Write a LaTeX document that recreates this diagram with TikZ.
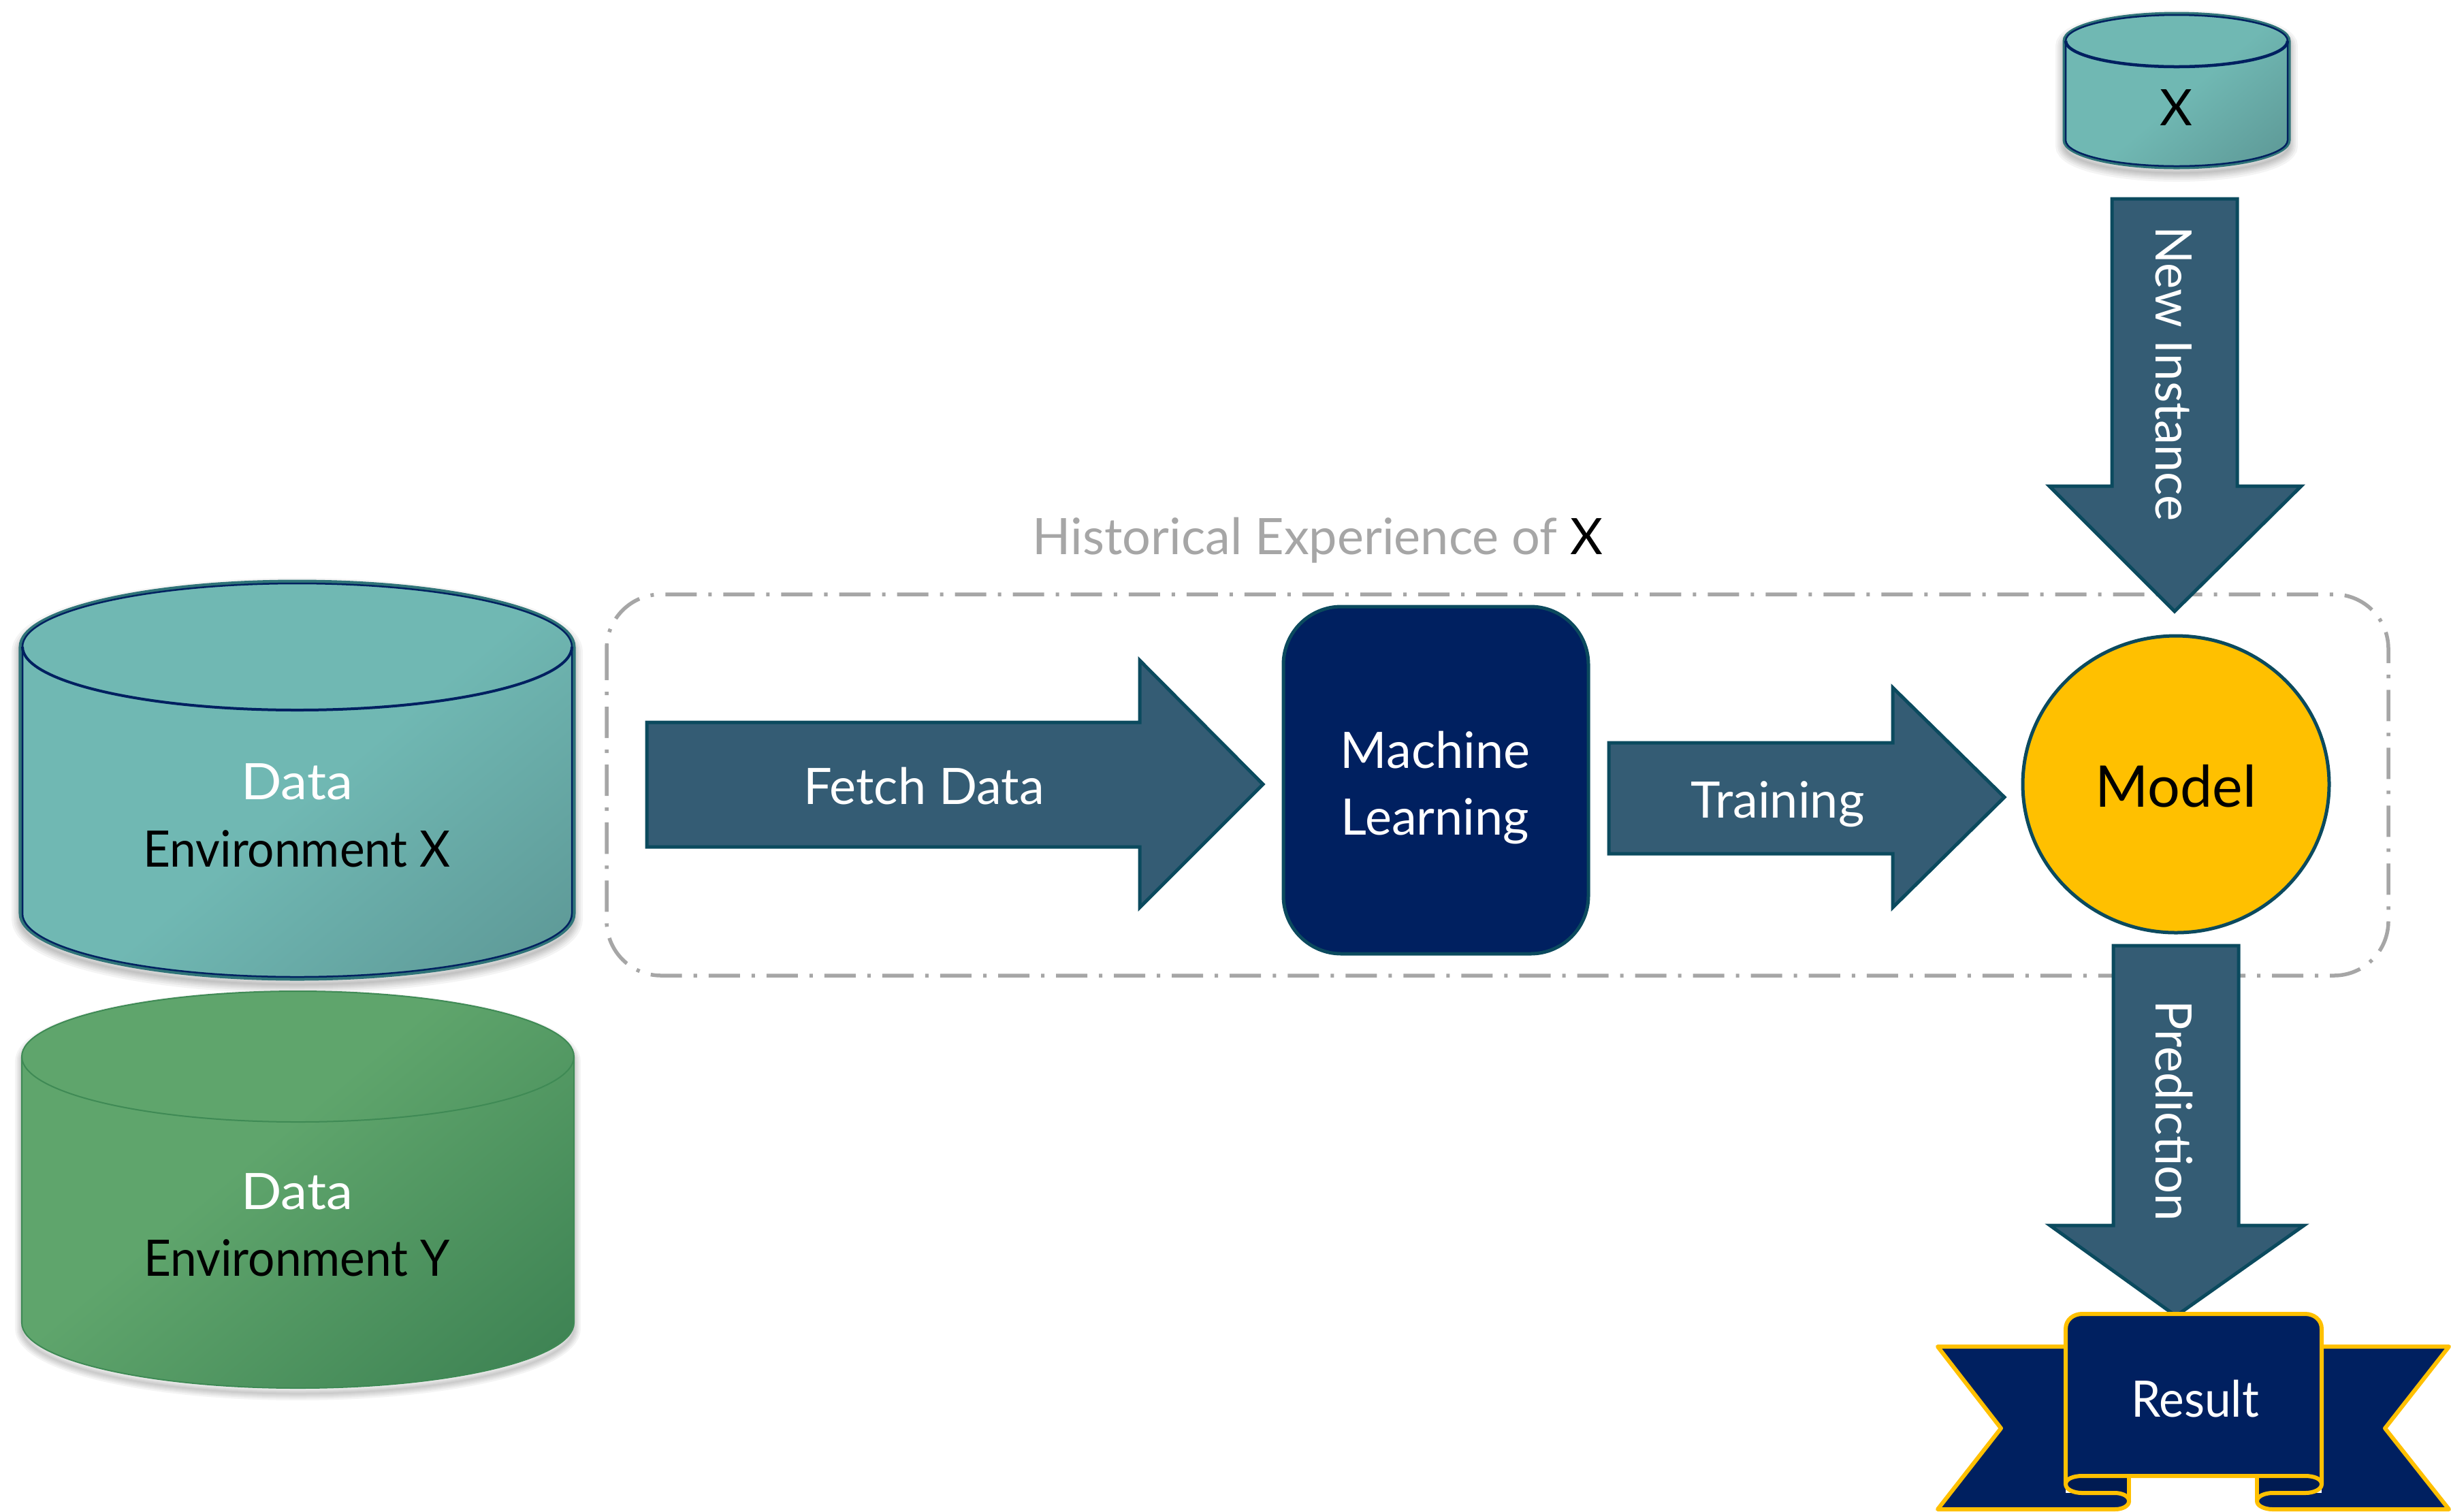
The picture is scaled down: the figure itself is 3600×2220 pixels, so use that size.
\documentclass[tikz,border=0pt]{standalone}
\usepackage{fontspec}
\setmainfont{Lato}[FakeStretch=1.0]
\newfontfamily\fenv{Lato}[FakeStretch=0.94]
\newfontfamily\frot{Lato}[FakeStretch=0.98]
\newfontfamily\fwide{Lato}[FakeStretch=1.06]
\definecolor{tealA}{HTML}{70B8B3}
\definecolor{tealB}{HTML}{5D9896}
\definecolor{greenA}{HTML}{5FA56C}
\definecolor{greenB}{HTML}{3C8152}
\definecolor{greenEdge}{HTML}{3F8A55}
\definecolor{tealEdge}{HTML}{2F7478}
\definecolor{navy}{HTML}{002060}
\definecolor{navyDark}{HTML}{001B52}
\definecolor{arrowFill}{HTML}{345C74}
\definecolor{arrowEdge}{HTML}{0B4A5E}
\definecolor{gold}{HTML}{FFC000}
\definecolor{dashGrey}{HTML}{A6A6A6}
\pgfdeclarehorizontalshading{tealgrad}{100bp}{color(0bp)=(tealA);color(52bp)=(tealA);color(84bp)=(tealB);color(100bp)=(tealB)}
\pgfdeclarehorizontalshading{greengrad}{100bp}{color(0bp)=(greenA);color(44bp)=(greenA);color(84bp)=(greenB);color(100bp)=(greenB)}
\newcommand\cylbody[5]{%
  (#1,#3) .. controls (#1,{#3-0.5523*#5}) and ({(#1+#2)/2-0.2762*(#2-#1)},{#3-#5}) .. ({(#1+#2)/2},{#3-#5})
  .. controls ({(#1+#2)/2+0.2762*(#2-#1)},{#3-#5}) and (#2,{#3-0.5523*#5}) .. (#2,#3)
  -- (#2,#4) .. controls (#2,{#4+0.5523*#5}) and ({(#1+#2)/2+0.2762*(#2-#1)},{#4+#5}) .. ({(#1+#2)/2},{#4+#5})
  .. controls ({(#1+#2)/2-0.2762*(#2-#1)},{#4+#5}) and (#1,{#4+0.5523*#5}) .. (#1,#4) -- cycle}
\newcommand\cylfront[4]{%
  (#1,#3) .. controls (#1,{#3+0.5523*#4}) and ({(#1+#2)/2-0.2762*(#2-#1)},{#3+#4}) .. ({(#1+#2)/2},{#3+#4})
  .. controls ({(#1+#2)/2+0.2762*(#2-#1)},{#3+#4}) and (#2,{#3+0.5523*#4}) .. (#2,#3)}
\tikzset{
  x=0.01cm,y=-0.01cm,
  lbl/.style={font=\fontsize{21}{25}\selectfont,inner sep=0pt,anchor=center},
  blockarrow/.style={fill=arrowFill,draw=arrowEdge,line width=0.05cm,miter limit=10},
  softshadow/.style={draw=black,draw opacity=.045,yshift=-0.08cm},
}
\begin{document}
\begin{tikzpicture}
\useasboundingbox (0,0) rectangle (3600,2220);
% dashed frame
\draw[dashGrey,line width=0.055cm,dash pattern=on 0.46cm off 0.17cm on 0.05cm off 0.17cm,rounded corners=0.8cm] (891,873) rectangle (3508,1433);
\node[lbl,anchor=base west,text=dashGrey] (hist) at (1516,814) {Historical Experience of \textcolor{black}{X}};
% cylinder X big
\foreach \w in {3,7,11,15,20,26}{\draw[softshadow,line width=\w*0.01cm] \cylbody{30}{843}{950}{1342}{96};}
\path[shading=tealgrad,shading angle=-50] \cylbody{30}{843}{950}{1342}{96};
\draw[tealEdge,line width=0.05cm] \cylbody{30}{843}{950}{1342}{96};
\draw[navy,line width=0.025cm] \cylbody{33}{840}{950}{1342}{93};
\draw[navy,line width=0.04cm] \cylfront{33}{840}{950}{93};
\node[lbl,text=white,font=\fontsize{21}{25}\selectfont\fwide] (dx) at (436,1148) {Data};
\node[lbl,text=black,font=\fontsize{21}{25}\selectfont\fenv] (ex) at (436,1247) {Environment X};
% cylinder Y
\foreach \w in {3,7,11,15,20}{\draw[softshadow,line width=\w*0.01cm] \cylbody{32}{843}{1552}{1943}{96};}
\path[shading=greengrad,shading angle=-50] \cylbody{32}{843}{1552}{1943}{96};
\draw[greenEdge,line width=0.02cm] \cylbody{32}{843}{1552}{1943}{96};
\draw[greenEdge,line width=0.02cm] \cylfront{32}{843}{1552}{96};
\node[lbl,text=white,font=\fontsize{21}{25}\selectfont\fwide] (dy) at (436,1750) {Data};
\node[lbl,text=black,font=\fontsize{21}{25}\selectfont\fenv] (ey) at (436,1848) {Environment Y};
% small cylinder
\foreach \w in {3,7,11,15,20,26}{\draw[softshadow,line width=\w*0.01cm] \cylbody{3032}{3362}{60}{206}{40};}
\path[shading=tealgrad,shading angle=-50] \cylbody{3032}{3362}{60}{206}{40};
\draw[tealEdge,line width=0.05cm] \cylbody{3032}{3362}{60}{206}{40};
\draw[navy,line width=0.025cm] \cylbody{3034}{3360}{60}{206}{38};
\draw[navy,line width=0.045cm] \cylfront{3034}{3360}{60}{38};
\node[lbl,text=black] (xx) at (3196,158) {X};
% arrows
\draw[blockarrow] (3102,292) -- (3286,292) -- (3286,714) -- (3380,714) -- (3194,898) -- (3010,714) -- (3102,714) -- cycle;
\node[lbl,text=white,rotate=-90,font=\fontsize{21}{25}\selectfont\frot] (ni) at (3193,549) {New Instance};
\draw[blockarrow] (3104,1389) -- (3288,1389) -- (3288,1800) -- (3384,1800) -- (3196,1933) -- (3011,1800) -- (3104,1800) -- cycle;
\node[lbl,text=white,rotate=-90,font=\fontsize{21}{25}\selectfont\frot] (pr) at (3193,1632) {Prediction};
\draw[blockarrow] (950,1061) -- (1674,1061) -- (1674,970) -- (1855,1152) -- (1674,1333) -- (1674,1244) -- (950,1244) -- cycle;
\node[lbl,text=white] (fd) at (1357,1155) {Fetch Data};
\draw[blockarrow] (2363,1091) -- (2780,1091) -- (2780,1010) -- (2944,1171) -- (2780,1333) -- (2780,1254) -- (2363,1254) -- cycle;
\node[lbl,text=white] (tr) at (2611,1181) {Training};
% machine learning
\draw[fill=navy,draw=arrowEdge,line width=0.05cm,rounded corners=0.85cm] (1885,891) rectangle (2333,1401);
\node[lbl,text=white] (m1) at (2108,1102) {Machine};
\node[lbl,text=white] (m2) at (2108,1206) {Learning};
% model
\draw[fill=gold,draw=arrowEdge,line width=0.05cm] (3196,1152) ellipse [x radius=225,y radius=218];
\node[lbl,text=black,font=\fontsize{24}{28}\selectfont] (mo) at (3196,1155) {Model};
% ribbon
\fill[navy] (2846,1978) -- (3034,1978) -- (3034,2193) -- (3106,2193) .. controls (3118,2193) and (3127,2198) .. (3127,2205) .. controls (3127,2212) and (3118,2217) .. (3106,2217) -- (2846,2217) -- (2939,2098) -- cycle;
\fill[navy] (3597,1978) -- (3410,1978) -- (3410,2193) -- (3338,2193) .. controls (3326,2193) and (3315,2198) .. (3315,2205) .. controls (3315,2212) and (3326,2217) .. (3338,2217) -- (3597,2217) -- (3503,2098) -- cycle;
\begin{scope}[draw=gold,line width=0.06cm,line join=round]
\fill[navyDark] (3034,2168) -- (3127,2168) -- (3127,2205) .. controls (3127,2198) and (3118,2193) .. (3106,2193) -- (3058,2193) .. controls (3046,2193) and (3034,2188) .. (3034,2180) -- cycle;
\fill[navyDark] (3410,2168) -- (3315,2168) -- (3315,2205) .. controls (3315,2198) and (3326,2193) .. (3338,2193) -- (3386,2193) .. controls (3398,2193) and (3410,2188) .. (3410,2180) -- cycle;
\filldraw[fill=navy] (3034,2180) -- (3034,1952) .. controls (3034,1938) and (3046,1930) .. (3058,1930) -- (3386,1930) .. controls (3398,1930) and (3410,1938) .. (3410,1952) -- (3410,2180) .. controls (3410,2172) and (3398,2168) .. (3386,2168) -- (3058,2168) .. controls (3046,2168) and (3034,2172) .. (3034,2180) -- cycle;
\draw (3034,1978) -- (2846,1978) -- (2939,2098) -- (2846,2217) -- (3106,2217) .. controls (3118,2217) and (3127,2212) .. (3127,2205) .. controls (3127,2198) and (3118,2193) .. (3106,2193) -- (3058,2193) .. controls (3046,2193) and (3034,2188) .. (3034,2180);
\draw (3410,1978) -- (3597,1978) -- (3503,2098) -- (3597,2217) -- (3338,2217) .. controls (3326,2217) and (3315,2212) .. (3315,2205) .. controls (3315,2198) and (3326,2193) .. (3338,2193) -- (3386,2193) .. controls (3398,2193) and (3410,2188) .. (3410,2180);
\draw (3127,2168) -- (3127,2205);
\draw (3315,2168) -- (3315,2205);
\end{scope}
\node[lbl,text=white,font=\fontsize{21}{25}\selectfont\fenv] (re) at (3224,2055) {Result};
\end{tikzpicture}
\end{document}
